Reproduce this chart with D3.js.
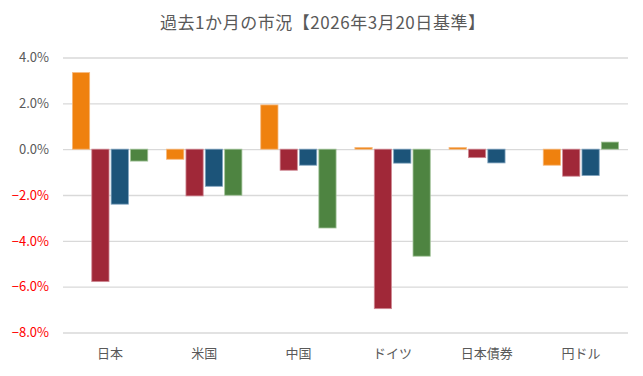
<!DOCTYPE html>
<html><head><meta charset="utf-8">
<script src="https://cdn.jsdelivr.net/npm/d3@7/dist/d3.min.js"></script>
<style>
body{margin:0;background:#fff;}
text{font-family:"Noto Sans CJK JP","Noto Sans",sans-serif;}
</style></head><body>
<svg id="chart" width="643" height="376"></svg>
<script>
const title = "過去1か月の市況【2026年3月20日基準】";
const categories = ["日本","米国","中国","ドイツ","日本債券","円ドル"];
const seriesNames = ["s1","s2","s3","s4"];
const series1 = [3.34, -0.44, 1.93, 0.07, 0.07, -0.70];
const series2 = [-5.78, -2.04, -0.92, -6.96, -0.37, -1.18];
const series3 = [-2.40, -1.62, -0.70, -0.61, -0.60, -1.15];
const series4 = [-0.52, -2.01, -3.44, -4.67, 0.00, 0.31];
const yTicks = [4, 2, 0, -2, -4, -6, -8];
const colors = ["#EF810E", "#A02838", "#1C5479", "#4E8441"];
const strokes = ["#F6B77A", "#D08A95", "#7FA3BE", "#A3C49A"];

const svg = d3.select("#chart");
const margin = {left:63, right:15, top:57.5, bottom:43.5};
const W = 643, H = 376;
const x0 = d3.scaleBand().domain(categories).range([margin.left, W - margin.right]).paddingInner(0.2).paddingOuter(0.1);
const x1 = d3.scaleBand().domain(seriesNames).range([0, x0.bandwidth()]).paddingInner(0.11);
const y = d3.scaleLinear().domain([-8, 4]).range([H - margin.bottom, margin.top]);

svg.append("text").attr("x", 322.5).attr("y", 29).attr("text-anchor","middle")
  .attr("font-size", 17).attr("fill", "#595959")
  .attr("textLength", 325).attr("lengthAdjust", "spacing").text(title);

// grid
const grid = d3.axisLeft(y).tickValues(yTicks).tickSize(-(W - margin.left - margin.right)).tickFormat("");
const gg = svg.append("g").attr("transform", `translate(${margin.left},0)`).call(grid);
gg.select(".domain").remove();
gg.selectAll("line").attr("stroke", "#D9D9D9").attr("stroke-width", 1.3);

// y labels
const ya = svg.append("g").attr("transform", `translate(${margin.left},0)`)
  .call(d3.axisLeft(y).tickValues(yTicks).tickSize(0).tickPadding(14).tickFormat(d => d3.format(".1f")(d) + "%"));
ya.select(".domain").remove();
ya.selectAll("text").attr("font-size", 13).attr("font-family", "'Open Sans','Noto Sans',sans-serif")
  .attr("fill", d => d < 0 ? "#FF0000" : "#595959");

const data = [series1, series2, series3, series4];
categories.forEach((c, i) => {
  const g = svg.append("g").attr("transform", `translate(${x0(c)},0)`);
  seriesNames.forEach((s, k) => {
    const v = data[k][i];
    if (v === 0) return;
    g.append("rect")
      .attr("x", x1(s)).attr("width", x1.bandwidth())
      .attr("y", y(Math.max(0, v))).attr("height", Math.abs(y(v) - y(0)))
      .attr("fill", colors[k]).attr("stroke", strokes[k]).attr("stroke-width", 0.8);
  });
});

// x labels
const xa = svg.append("g").attr("transform", `translate(0,${H - margin.bottom})`)
  .call(d3.axisBottom(x0).tickSize(0).tickPadding(16));
xa.select(".domain").remove();
xa.selectAll("text").attr("font-size", 13).attr("fill", "#595959");
</script></body></html>
